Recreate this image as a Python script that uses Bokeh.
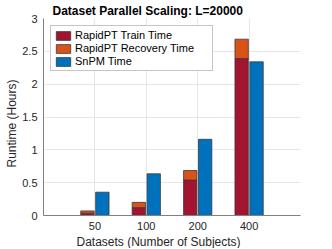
import numpy as np
from bokeh.plotting import figure
from bokeh.models import (ColumnDataSource, FixedTicker, Legend, LegendItem,
                          Title, Range1d)
from bokeh.embed import file_html
from bokeh.resources import INLINE

datasets = ["50", "100", "200", "400"]
train_time = [0.035, 0.12, 0.54, 2.39]
recovery_time = [0.035, 0.08, 0.145, 0.295]
snpm_time = [0.355, 0.635, 1.16, 2.34]
y_ticks = [0, 0.5, 1, 1.5, 2, 2.5, 3]
y_tick_labels = ["0", "0.5", "1", "1.5", "2", "2.5", "3"]
series_names = ["RapidPT Train Time", "RapidPT Recovery Time", "SnPM Time"]
title_text = "Dataset Parallel Scaling: L=20000"
x_label = "Datasets (Number of Subjects)"
y_label = "Runtime (Hours)"

FONT = "Liberation Sans"
TXT = "#262626"
C_TRAIN = "#A2142F"
C_REC = "#D95319"
C_SNPM = "#0072BD"
EDGE = "#3a3a3a"
BAR_W = 0.26
OFF = 0.145

pos = np.arange(1, len(datasets) + 1)
train = np.array(train_time)
rec = np.array(recovery_time)
snpm = np.array(snpm_time)

src = ColumnDataSource(dict(
    xl=pos - OFF, xr=pos + OFF,
    train=train, rec_bottom=train, rec_top=train + rec, snpm=snpm,
))

p = figure(width=316, height=248, x_range=Range1d(0, 5), y_range=Range1d(0, 3),
           output_backend="svg", toolbar_location=None,
           min_border_left=43, min_border_right=16,
           min_border_top=18, min_border_bottom=33)
p.outline_line_color = None
p.background_fill_color = "white"

r_train = p.vbar(x="xl", top="train", bottom=0, width=BAR_W, source=src,
                 fill_color=C_TRAIN, line_color=EDGE, line_width=0.8)
r_rec = p.vbar(x="xl", top="rec_top", bottom="rec_bottom", width=BAR_W, source=src,
               fill_color=C_REC, line_color=EDGE, line_width=0.8)
r_snpm = p.vbar(x="xr", top="snpm", bottom=0, width=BAR_W, source=src,
                fill_color=C_SNPM, line_color=EDGE, line_width=0.8)

# axes
p.xaxis.ticker = FixedTicker(ticks=list(pos))
p.xaxis.major_label_overrides = {int(k): v for k, v in zip(pos, datasets)}
p.yaxis.ticker = FixedTicker(ticks=y_ticks)
p.yaxis.major_label_overrides = {k: v for k, v in zip(y_ticks, y_tick_labels)}
for ax in (p.xaxis, p.yaxis):
    ax.axis_line_color = "#808080"
    ax.axis_line_width = 1
    ax.major_tick_out = 0
    ax.major_tick_in = 0
    ax.minor_tick_out = 0
    ax.minor_tick_in = 0
    ax.major_label_text_font = FONT
    ax.major_label_text_font_size = "11px"
    ax.major_label_text_color = TXT
p.xaxis.major_label_standoff = 6
p.yaxis.major_label_standoff = 6

p.xgrid.ticker = FixedTicker(ticks=list(pos))
p.ygrid.ticker = FixedTicker(ticks=y_ticks)
p.xgrid.grid_line_color = "#e6e6e6"
p.ygrid.grid_line_color = "#e6e6e6"

# title and axis labels as side titles
p.add_layout(Title(text=title_text, align="left", offset=9, standoff=1,
                   text_font=FONT, text_font_size="12px", text_font_style="bold",
                   text_color="black"), "above")
p.add_layout(Title(text=x_label, align="left", offset=33, standoff=0,
                   text_font=FONT, text_font_size="12px", text_font_style="normal",
                   text_color=TXT), "below")
p.add_layout(Title(text=y_label, align="left", offset=48, standoff=1,
                   text_font=FONT, text_font_size="12px", text_font_style="normal",
                   text_color=TXT), "left")

legend = Legend(items=[LegendItem(label=series_names[0], renderers=[r_train]),
                       LegendItem(label=series_names[1], renderers=[r_rec]),
                       LegendItem(label=series_names[2], renderers=[r_snpm])],
                location="top_left", margin=7, padding=3, spacing=1,
                glyph_width=18, glyph_height=11, label_height=11,
                label_width=134, label_standoff=3,
                label_text_font=FONT, label_text_font_size="11px",
                label_text_color="black",
                border_line_color="#8c8c8c", border_line_width=1,
                background_fill_color="white", background_fill_alpha=1)
p.add_layout(legend)

open("out.html", "w").write(file_html(p, INLINE))
